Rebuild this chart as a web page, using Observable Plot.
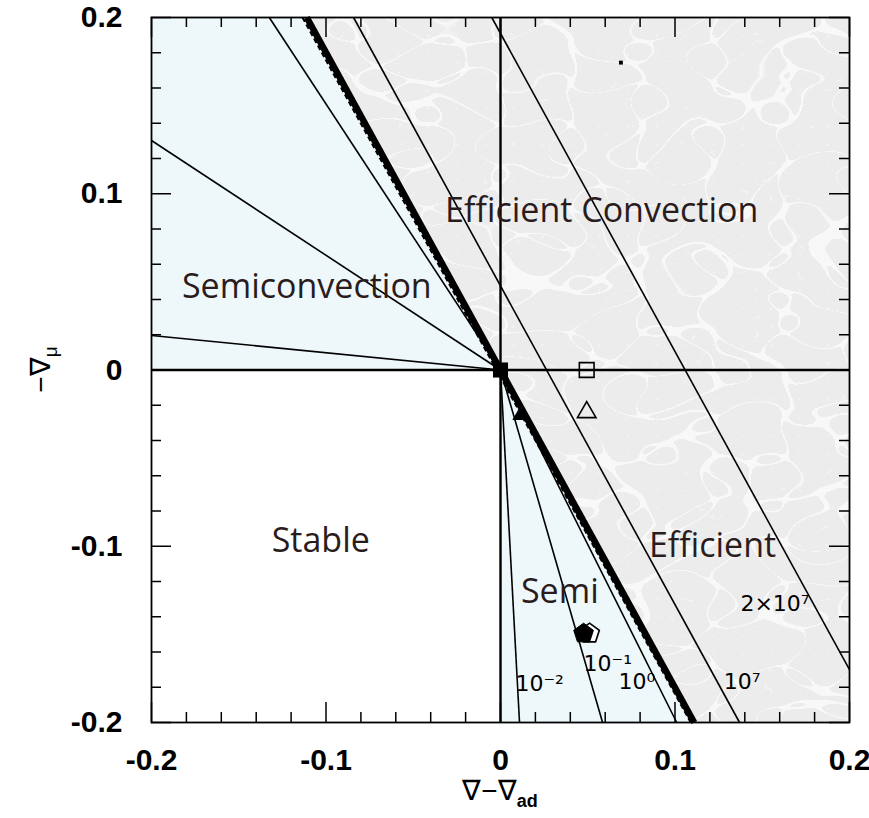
<!DOCTYPE html>
<html>
<head>
<meta charset="utf-8">
<script src="https://cdn.jsdelivr.net/npm/d3@7"></script>
<script src="https://cdn.jsdelivr.net/npm/@observablehq/plot@0.6"></script>
<style>
  body { margin: 0; background: #fff; }
  #chart svg { display: block; }
</style>
</head>
<body>
<div id="chart"></div>
<script>
// Axis ticks (data units)
const majorTicks = [-0.2, -0.1, 0, 0.1, 0.2];
const minorTicks = [-0.18, -0.16, -0.14, -0.12, -0.08, -0.06, -0.04, -0.02,
                    0.02, 0.04, 0.06, 0.08, 0.12, 0.14, 0.16, 0.18];

// Shaded regions as polygons between y1 and y2
const semiUpper = [
  {x: -0.2,   y1: 0, y2: 0.2},
  {x: -0.111, y1: 0, y2: 0.2},
  {x: 0,      y1: 0, y2: 0}
];
const semiLower = [
  {x: 0,     y1: -0.2, y2: 0},
  {x: 0.111, y1: -0.2, y2: -0.2}
];
const efficientRegion = [
  {x: -0.111, y1: 0.2,  y2: 0.2},
  {x: 0,      y1: 0,    y2: 0.2},
  {x: 0.111,  y1: -0.2, y2: 0.2},
  {x: 0.2,    y1: -0.2, y2: 0.2}
];

// Criterion lines (end points)
const thinLines = [
  {x1: 0, y1: 0, x2: 0.0109, y2: -0.2},    // 10^-2
  {x1: 0, y1: 0, x2: 0.0585, y2: -0.2},    // 10^-1
  {x1: 0, y1: 0, x2: 0.101,  y2: -0.2},    // 10^0
  {x1: 0, y1: 0, x2: -0.2,   y2: 0.0196},
  {x1: 0, y1: 0, x2: -0.2,   y2: 0.1302},
  {x1: 0, y1: 0, x2: -0.1325, y2: 0.2},
  {x1: -0.0842, y1: 0.2, x2: 0.137, y2: -0.2},  // 10^7
  {x1: -0.005,  y1: 0.2, x2: 0.2,   y2: -0.17}  // 2x10^7
];
const dashedLine = [{x1: -0.1135, y1: 0.2, x2: 0.109, y2: -0.2}];
const ledouxLine = [{x1: -0.111, y1: 0.2, x2: 0.111, y2: -0.2}];

// Model points
const filledSquares = [{x: 0, y: 0}];
const openSquares = [{x: 0.0494, y: 0}];
const openTriangles = [{x: 0.0494, y: -0.024}];
const filledTriangles = [{x: 0.011, y: -0.026}];
const openPentagons = [{x: 0.051, y: -0.1495}];
const filledPentagons = [{x: 0.0476, y: -0.1495}];
const smallDots = [{x: 0.069, y: 0.1744}];

// Labels
const regionLabels = [
  {text: "Efficient Convection", x: 0.058,  y: 0.084},
  {text: "Semiconvection",       x: -0.111, y: 0.041},
  {text: "Stable",               x: -0.103, y: -0.1035},
  {text: "Efficient",            x: 0.1215, y: -0.106},
  {text: "Semi",                 x: 0.034,  y: -0.132}
];
const criterionLabels = [
  {text: "10\u207B\u00B2", x: 0.0086, y: -0.182},
  {text: "10\u207B\u00B9", x: 0.0476, y: -0.1705},
  {text: "10\u2070",       x: 0.0676, y: -0.181},
  {text: "10\u2077",       x: 0.128,  y: -0.181},
  {text: "2\u00D710\u2077", x: 0.1375, y: -0.1365}
];

// Regular pentagon symbol
const pentagon = {
  draw(context, size) {
    const R = Math.sqrt(size / 2.3776);
    for (let k = 0; k < 5; ++k) {
      const a = -Math.PI / 2 + k * 2 * Math.PI / 5;
      const px = R * Math.cos(a), py = R * Math.sin(a);
      if (k === 0) context.moveTo(px, py); else context.lineTo(px, py);
    }
    context.closePath();
  }
};

const W = 869, H = 818;
const mL = 151, mR = 20, mT = 17, mB = 96;
const frameH = H - mT - mB, frameW = W - mL - mR;
const fmt = d => d === 0 ? "0" : String(d);
const tickFont = "Liberation Sans, Arial, Helvetica, sans-serif";
const labelFont = "Open Sans, Noto Sans, sans-serif";
const ink = "#2a1c1c";

const chart = Plot.plot({
  width: W,
  height: H,
  marginLeft: mL,
  marginRight: mR,
  marginTop: mT,
  marginBottom: mB,
  x: {domain: [-0.2, 0.2]},
  y: {domain: [-0.2, 0.2]},
  style: {background: "#fff"},
  marks: [
    Plot.areaY(semiUpper, {x: "x", y1: "y1", y2: "y2", fill: "#eef7fa"}),
    Plot.areaY(semiLower, {x: "x", y1: "y1", y2: "y2", fill: "#eef7fa"}),
    Plot.areaY(efficientRegion, {x: "x", y1: "y1", y2: "y2", fill: "#ededed"}),
    Plot.link(thinLines, {x1: "x1", y1: "y1", x2: "x2", y2: "y2", stroke: "#000", strokeWidth: 1.6}),
    Plot.link(dashedLine, {x1: "x1", y1: "y1", x2: "x2", y2: "y2", stroke: "#000", strokeWidth: 2, strokeDasharray: "5,3"}),
    Plot.link(ledouxLine, {x1: "x1", y1: "y1", x2: "x2", y2: "y2", stroke: "#000", strokeWidth: 6.5}),
    Plot.ruleX([0], {stroke: "#000", strokeWidth: 2.4}),
    Plot.ruleY([0], {stroke: "#000", strokeWidth: 2.4}),
    Plot.dot(filledSquares, {x: "x", y: "y", symbol: "square", r: 8.5, fill: "#000", stroke: "none"}),
    Plot.dot(openSquares, {x: "x", y: "y", symbol: "square", r: 8.3, fill: "none", stroke: "#000", strokeWidth: 1.6}),
    Plot.dot(openTriangles, {x: "x", y: "y", symbol: "triangle", r: 6.9, fill: "none", stroke: "#000", strokeWidth: 1.6}),
    Plot.dot(filledTriangles, {x: "x", y: "y", symbol: "triangle", r: 5.5, fill: "#000", stroke: "none"}),
    Plot.dot(openPentagons, {x: "x", y: "y", symbol: pentagon, r: 9, fill: "#fff", stroke: "#000", strokeWidth: 1.6}),
    Plot.dot(filledPentagons, {x: "x", y: "y", symbol: pentagon, r: 9, fill: "#000", stroke: "#000", strokeWidth: 1}),
    Plot.dot(smallDots, {x: "x", y: "y", symbol: "square", r: 2.2, fill: "#000", stroke: "none"}),
    Plot.text(regionLabels, {x: "x", y: "y", text: "text", textAnchor: "middle", lineAnchor: "bottom",
      fontSize: 34, fontFamily: labelFont, fill: ink}),
    Plot.text(criterionLabels, {x: "x", y: "y", text: "text", textAnchor: "start", lineAnchor: "bottom",
      fontSize: 22, fontFamily: "DejaVu Sans, sans-serif", fill: "#000"}),
    // inward ticks on all four sides
    Plot.ruleX(minorTicks, {insetTop: frameH - 10, stroke: "#000", strokeWidth: 1.5}),
    Plot.ruleX(majorTicks, {insetTop: frameH - 20, stroke: "#000", strokeWidth: 1.5}),
    Plot.ruleX(minorTicks, {insetBottom: frameH - 10, stroke: "#000", strokeWidth: 1.5}),
    Plot.ruleX(majorTicks, {insetBottom: frameH - 20, stroke: "#000", strokeWidth: 1.5}),
    Plot.ruleY(minorTicks, {insetRight: frameW - 10, stroke: "#000", strokeWidth: 1.5}),
    Plot.ruleY(majorTicks, {insetRight: frameW - 20, stroke: "#000", strokeWidth: 1.5}),
    Plot.ruleY(minorTicks, {insetLeft: frameW - 10, stroke: "#000", strokeWidth: 1.5}),
    Plot.ruleY(majorTicks, {insetLeft: frameW - 20, stroke: "#000", strokeWidth: 1.5}),
    Plot.frame({stroke: "#000", strokeWidth: 1.8}),
    Plot.axisX(majorTicks, {anchor: "bottom", tickSize: 0, tickPadding: 26, tickFormat: fmt,
      fontSize: 30, fontFamily: tickFont, fontWeight: "bold", fill: "#000", label: null}),
    Plot.axisY(majorTicks, {anchor: "left", tickSize: 0, tickPadding: 29, tickFormat: fmt,
      fontSize: 30, fontFamily: tickFont, fontWeight: "bold", fill: "#000", label: null})
  ]
});

// Marble texture for the efficient-convection region
const svg = d3.select(chart);
const defs = svg.insert("defs", ":first-child");
const filter = defs.append("filter").attr("id", "marble")
  .attr("x", 0).attr("y", 0).attr("width", 1).attr("height", 1);
filter.append("feFlood").attr("flood-color", "#ececec").attr("result", "bg");
// coarse veins
filter.append("feTurbulence").attr("type", "turbulence")
  .attr("baseFrequency", "0.014 0.024").attr("numOctaves", 1).attr("seed", 4).attr("result", "t1");
filter.append("feColorMatrix").attr("in", "t1").attr("type", "matrix")
  .attr("values", "0 0 0 0 1  0 0 0 0 1  0 0 0 0 1  -32 0 0 0 0.6").attr("result", "v1");
// fine veins
filter.append("feTurbulence").attr("type", "turbulence")
  .attr("baseFrequency", "0.035 0.055").attr("numOctaves", 2).attr("seed", 9).attr("result", "t2");
filter.append("feColorMatrix").attr("in", "t2").attr("type", "matrix")
  .attr("values", "0 0 0 0 1  0 0 0 0 1  0 0 0 0 1  -22 0 0 0 0.35").attr("result", "v2");
filter.append("feComposite").attr("in", "v1").attr("in2", "bg").attr("operator", "over").attr("result", "m1");
filter.append("feComposite").attr("in", "v2").attr("in2", "m1").attr("operator", "over").attr("result", "m2");
filter.append("feComposite").attr("in", "m2").attr("in2", "SourceGraphic").attr("operator", "in");
svg.selectAll('g[fill="#ededed"]').attr("filter", "url(#marble)");

// Axis titles with subscripts
const xTitle = svg.append("text")
  .attr("x", mL + frameW / 2).attr("y", 800)
  .attr("text-anchor", "middle")
  .attr("font-family", tickFont).attr("font-size", 28).attr("fill", "#000");
xTitle.append("tspan").text("\u2207\u2212\u2207");
xTitle.append("tspan").attr("font-size", 18).attr("font-weight", "bold").attr("dy", 7).text("ad");

const yTitle = svg.append("text")
  .attr("transform", `translate(50,${mT + frameH / 2}) rotate(-90)`)
  .attr("text-anchor", "middle")
  .attr("font-family", tickFont).attr("font-size", 28).attr("fill", "#000");
yTitle.append("tspan").text("\u2212\u2207");
yTitle.append("tspan").attr("font-size", 19).attr("dy", 7).text("\u03BC");

document.getElementById("chart").append(chart);
</script>
</body>
</html>
